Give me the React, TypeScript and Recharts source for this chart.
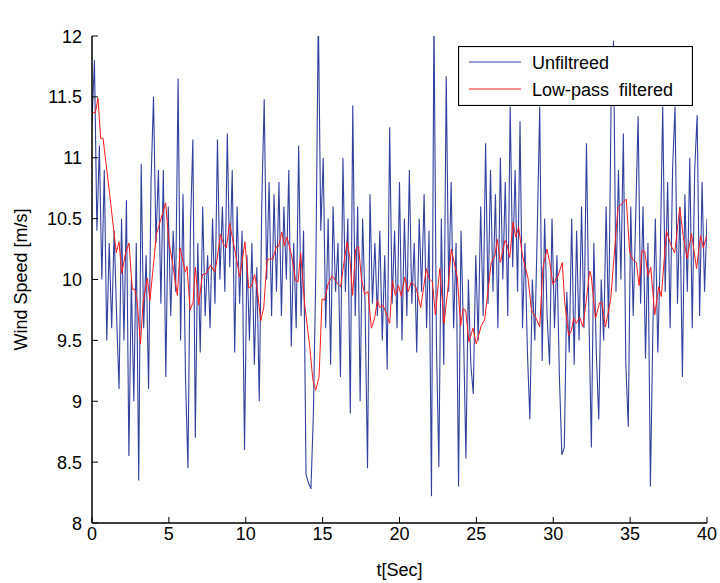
import React from "react";
import { LineChart, Line, XAxis, YAxis, Legend } from "recharts";

// Unfiltered wind speed, sampled every 0.16 s from t = 0 to 40
const UNFILTERED_STEP = 0.16;
const unfilteredValues = [
  11.3, 11.8, 10.4, 11.1, 10.0, 10.9, 9.5, 10.3, 9.6, 10.4, 9.7, 9.1, 10.5,
  9.5, 10.65, 8.55, 10.0, 9.0, 10.3, 8.35, 10.95, 9.6, 10.2, 9.1, 10.8,
  11.5, 10.3, 10.9, 9.8, 10.9, 9.2, 10.6, 9.7, 10.4, 9.9, 11.65, 9.5, 10.7,
  9.2, 8.45, 10.4, 11.15, 8.7, 10.3, 9.4, 10.6, 9.7, 10.2, 9.6, 10.5, 9.8,
  11.15, 10.0, 10.6, 9.9, 11.2, 10.1, 10.9, 9.4, 10.6, 9.8, 10.4, 8.6, 10.2,
  9.5, 10.3, 9.3, 10.1, 9.0, 10.6, 11.48, 10.0, 10.8, 9.7, 10.7, 9.9, 10.8,
  9.7, 10.6, 10.0, 10.9, 9.45, 10.3, 9.6, 11.1, 9.7, 10.4, 8.4, 8.33, 8.28,
  8.9, 10.1, 12.2, 10.4, 11.0, 9.6, 10.5, 9.3, 10.6, 9.9, 10.3, 9.2, 11.0,
  9.9, 10.5, 8.9, 11.43, 9.7, 10.6, 9.0, 10.5, 9.8, 8.45, 10.7, 9.8, 10.3,
  9.7, 10.4, 9.5, 10.2, 9.26, 11.25, 9.8, 10.4, 9.6, 10.8, 9.5, 10.5, 9.7,
  10.9, 9.8, 10.3, 9.4, 10.5, 9.9, 10.7, 9.6, 10.4, 8.22, 12.2, 9.5, 8.46,
  10.5, 9.3, 11.67, 9.9, 10.8, 9.6, 10.3, 8.3, 10.4, 9.6, 8.53, 10.0, 9.3,
  9.06, 10.2, 9.5, 10.6, 9.7, 11.12, 9.8, 10.9, 9.9, 10.7, 9.6, 11.0, 10.0,
  10.8, 9.7, 11.42, 10.1, 10.9, 9.9, 11.3, 9.6, 10.3, 9.4, 8.85, 10.0, 9.5,
  10.4, 11.42, 9.33, 10.5, 9.7, 9.3, 10.5, 9.6, 10.2, 9.2, 8.56, 8.62, 9.9,
  9.4, 10.5, 9.3, 10.4, 9.5, 10.6, 9.6, 11.12, 9.7, 8.62, 10.3, 9.4, 8.85,
  10.0, 9.5, 10.6, 9.6, 11.42, 11.96, 9.9, 10.9, 10.0, 11.2, 9.3, 8.79, 10.6,
  9.7, 10.5, 11.34, 9.8, 10.6, 9.35, 10.3, 8.3, 9.6, 10.5, 9.4, 10.2, 11.42,
  9.9, 10.8, 9.6, 10.9, 11.42, 9.8, 10.6, 9.2, 10.7, 9.9, 11.0, 9.6, 10.9,
  11.35, 9.7, 10.8, 9.9, 10.5,
];

// Low-pass filtered wind speed
const filteredT = [
  0, 0.22, 0.39, 0.56, 0.72, 1.15, 1.58, 1.76, 1.93, 2.19, 2.41, 2.62, 2.78,
  2.95, 3.15, 3.32, 3.6, 3.77, 4.19, 4.79, 4.99, 5.27, 5.55, 5.73, 6.07, 6.18,
  6.38, 6.57, 6.72, 6.94, 7.18, 7.44, 7.72, 7.98, 8.13, 8.35, 8.56, 8.74,
  8.95, 9.28, 9.61, 9.95, 10.19, 10.36, 10.58, 10.76, 10.97, 11.17, 11.38,
  11.56, 11.77, 11.99, 12.14, 12.34, 12.51, 12.68, 12.96, 13.24, 13.4, 13.57,
  13.83, 14.16, 14.37, 14.55, 14.77, 14.96, 15.13, 15.35, 15.61, 15.85, 16.0,
  16.17, 16.39, 16.59, 16.77, 16.95, 17.15, 17.34, 17.52, 17.73, 17.95,
  18.17, 18.38, 18.56, 18.71, 18.93, 19.14, 19.36, 19.54, 19.73, 19.94,
  20.12, 20.34, 20.56, 20.77, 21.06, 21.38, 21.75, 21.9, 22.14, 22.33, 22.62,
  22.9, 23.16, 23.37, 23.76, 23.98, 24.13, 24.3, 24.52, 24.78, 24.99, 25.32,
  25.54, 25.97, 26.21, 26.36, 26.56, 26.86, 26.99, 27.17, 27.38, 27.56,
  27.75, 27.99, 28.36, 28.58, 28.86, 29.12, 29.33, 29.59, 29.77, 29.98,
  30.31, 30.59, 30.74, 31.0, 31.18, 31.33, 31.5, 31.72, 31.93, 32.15, 32.37,
  32.48, 32.74, 33.02, 33.17, 33.39, 33.73, 34.21, 34.43, 34.75, 34.97,
  35.19, 35.41, 35.58, 35.78, 35.95, 36.17, 36.34, 36.6, 36.86, 37.03,
  37.36, 37.69, 37.9, 38.23, 38.45, 38.71, 38.99, 39.32, 39.58, 39.76, 39.98,
];
const filteredV = [
  11.37, 11.37, 11.49, 11.16, 11.16, 10.7, 10.22, 10.31, 10.05, 10.22, 10.3,
  9.92, 9.92, 9.81, 9.47, 9.81, 10.01, 9.83, 10.37, 10.63, 10.32, 10.11,
  9.87, 10.26, 10.06, 10.11, 9.75, 9.81, 10.1, 9.79, 10.04, 10.05, 10.12,
  10.06, 10.16, 10.37, 10.29, 10.26, 10.46, 10.25, 10.02, 10.31, 9.93, 9.94,
  10.04, 9.91, 9.66, 9.77, 10.16, 10.17, 10.17, 10.27, 10.27, 10.39, 10.28,
  10.35, 10.21, 9.99, 9.98, 10.22, 9.8, 9.45, 9.17, 9.09, 9.2, 9.84, 9.83,
  9.96, 10.03, 9.99, 9.96, 9.94, 10.14, 10.31, 10.18, 9.87, 10.25, 10.27,
  10.01, 9.88, 9.9, 9.6, 9.68, 9.83, 9.77, 9.79, 9.72, 9.64, 9.99, 9.87,
  9.95, 9.86, 10.02, 9.9, 9.98, 9.94, 9.77, 10.09, 10.01, 9.98, 9.71, 10.09,
  9.64, 9.94, 10.25, 10.02, 9.62, 9.76, 9.75, 9.49, 9.6, 9.47, 9.62, 9.67,
  10.14, 10.2, 10.33, 10.14, 10.32, 10.29, 10.18, 10.47, 10.35, 10.43, 10.2,
  10.01, 9.75, 9.69, 9.61, 10.1, 10.25, 10.14, 9.96, 10.03, 10.14, 9.82,
  9.54, 9.58, 9.68, 9.64, 9.69, 9.61, 9.83, 10.07, 10.02, 9.68, 9.81, 9.81,
  9.61, 9.83, 10.59, 10.62, 10.66, 10.22, 10.16, 10.14, 9.95, 10.24, 10.23,
  10.03, 10.1, 9.71, 9.94, 9.86, 10.4, 10.27, 10.22, 10.59, 10.36, 10.17,
  10.38, 10.09, 10.36, 10.26, 10.36,
];

const xTicks = [0, 5, 10, 15, 20, 25, 30, 35, 40];
const yTicks = [8, 8.5, 9, 9.5, 10, 10.5, 11, 11.5, 12];
const seriesNames = ["Unfiltreed", "Low-pass  filtered"];

const unfilteredData = unfilteredValues.map((v, i) => ({
  t: +(i * UNFILTERED_STEP).toFixed(2),
  v,
}));
const filteredData = filteredT.map((t, i) => ({ t, v: filteredV[i] }));

const FONT = "'Liberation Sans', Arial, Helvetica, sans-serif";
const TICK_LEN = 6;

const BottomTick = (props: any) => {
  const { x, y, payload } = props;
  return (
    <g>
      <line x1={x} x2={x} y1={y} y2={y - TICK_LEN} stroke="#000" strokeWidth={1} />
      <text x={x} y={y + 17} textAnchor="middle" fontSize={18} fill="#000" fontFamily={FONT}>
        {payload.value}
      </text>
    </g>
  );
};

const TopTick = (props: any) => {
  const { x, y } = props;
  return <line x1={x} x2={x} y1={y} y2={y + TICK_LEN} stroke="#000" strokeWidth={1} />;
};

const LeftTick = (props: any) => {
  const { x, y, payload } = props;
  return (
    <g>
      <line x1={x} x2={x + TICK_LEN} y1={y} y2={y} stroke="#000" strokeWidth={1} />
      <text x={x - 10} y={y + 6.5} textAnchor="end" fontSize={18} fill="#000" fontFamily={FONT}>
        {payload.value}
      </text>
    </g>
  );
};

const RightTick = (props: any) => {
  const { x, y } = props;
  return <line x1={x} x2={x - TICK_LEN} y1={y} y2={y} stroke="#000" strokeWidth={1} />;
};

const TitleLabel = (props: any) => {
  const { viewBox } = props;
  const cx = viewBox.x + viewBox.width / 2;
  return (
    <text x={cx} y={viewBox.y - 17} textAnchor="middle" fontSize={18} fill="#000" fontFamily={FONT}>
      Wind Speed
    </text>
  );
};

const XLabel = (props: any) => {
  const { viewBox } = props;
  const cx = viewBox.x + viewBox.width / 2;
  return (
    <text x={cx} y={576} textAnchor="middle" fontSize={18} fill="#000" fontFamily={FONT}>
      t[Sec]
    </text>
  );
};

const YLabel = (props: any) => {
  const { viewBox } = props;
  const lx = 27;
  const cy = viewBox.y + viewBox.height / 2;
  return (
    <text
      x={lx}
      y={cy}
      transform={`rotate(-90, ${lx}, ${cy})`}
      textAnchor="middle"
      fontSize={18}
      fill="#000"
      fontFamily={FONT}
    >
      Wind Speed [m/s]
    </text>
  );
};

const LegendBox = (props: any) => {
  const items = [...(props.payload || [])].sort(
    (a: any, b: any) => seriesNames.indexOf(a.value) - seriesNames.indexOf(b.value)
  );
  return (
    <svg width={235} height={60} style={{ display: "block" }}>
      <rect x={0.5} y={0.5} width={234} height={59} fill="#fff" stroke="#000" strokeWidth={1.2} />
      {items.map((it: any, i: number) => {
        const yy = 16 + i * 27;
        return (
          <g key={it.value}>
            <line x1={11} x2={63} y1={yy} y2={yy} stroke={it.color} strokeWidth={1} />
            <text
              x={74}
              y={yy + 6.5}
              fontSize={18}
              fill="#000"
              fontFamily={FONT}
              style={{ whiteSpace: "pre" }}
            >
              {it.value}
            </text>
          </g>
        );
      })}
    </svg>
  );
};

export default function App() {
  return (
    <div style={{ position: "absolute", left: 0, top: 0, background: "#fff" }}>
      <LineChart
        width={720}
        height={583}
        margin={{ top: 36, right: 13, bottom: 0, left: 0 }}
        style={{ fontFamily: FONT }}
      >
        <XAxis
          xAxisId="b"
          dataKey="t"
          type="number"
          domain={[0, 40]}
          ticks={xTicks}
          height={60}
          tickSize={0}
          tickMargin={0}
          tickLine={false}
          axisLine={{ stroke: "#000", strokeWidth: 1.5 }}
          tick={<BottomTick />}
          label={<XLabel />}
          allowDataOverflow
        />
        <XAxis
          xAxisId="top"
          orientation="top"
          type="number"
          domain={[0, 40]}
          ticks={xTicks}
          height={0}
          tickSize={0}
          tickMargin={0}
          tickLine={false}
          axisLine={{ stroke: "#000", strokeWidth: 1.5 }}
          tick={<TopTick />}
          label={<TitleLabel />}
        />
        <YAxis
          yAxisId="l"
          type="number"
          domain={[8, 12]}
          ticks={yTicks}
          width={92}
          tickSize={0}
          tickMargin={0}
          tickLine={false}
          axisLine={{ stroke: "#000", strokeWidth: 1.5 }}
          tick={<LeftTick />}
          label={<YLabel />}
          allowDataOverflow
        />
        <YAxis
          yAxisId="r"
          orientation="right"
          type="number"
          domain={[8, 12]}
          ticks={yTicks}
          width={0}
          tickSize={0}
          tickMargin={0}
          tickLine={false}
          axisLine={{ stroke: "#000", strokeWidth: 1.5 }}
          tick={<RightTick />}
        />
        <Legend
          layout="vertical"
          align="center"
          verticalAlign="middle"
          content={<LegendBox />}
          wrapperStyle={{ position: "absolute", left: 458, top: 46, width: 235, height: 60 }}
        />
        <Line
          xAxisId="b"
          yAxisId="l"
          data={unfilteredData}
          dataKey="v"
          name={seriesNames[0]}
          stroke="#3242a0"
          strokeWidth={1.1}
          dot={false}
          activeDot={false}
          isAnimationActive={false}
        />
        <Line
          xAxisId="b"
          yAxisId="l"
          data={filteredData}
          dataKey="v"
          name={seriesNames[1]}
          stroke="#ff1a1a"
          strokeWidth={1}
          dot={false}
          activeDot={false}
          isAnimationActive={false}
        />
      </LineChart>
    </div>
  );
}
